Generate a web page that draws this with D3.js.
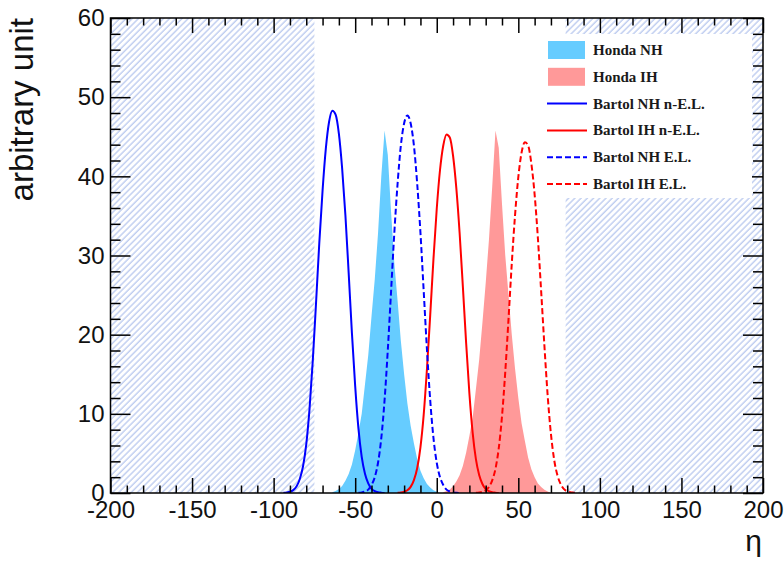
<!DOCTYPE html>
<html>
<head>
<meta charset="utf-8">
<script src="https://cdn.jsdelivr.net/npm/d3@7"></script>
<style>
  body { margin: 0; background: #fff; }
  .tick text { font-family: "Liberation Sans", Arial, sans-serif; font-size: 24px; fill: #111; }
</style>
</head>
<body>
<div id="chart"></div>
<script>
// histogram bins, width 2 in eta; each series starts at its own eta
const binWidth = 2;

const hondaNHStart = -64;
const hondaNH = [0.1, 0.25, 0.5, 0.9, 1.55, 2.4, 3.6, 5.4, 7.6, 10.0,
  13.7, 17.4, 22.3, 27.0, 32.8, 40.0, 45.8, 42.7, 35.5, 29.0,
  24.3, 19.2, 15.0, 11.3, 8.5, 6.3, 4.3, 2.8, 1.85, 1.15,
  0.7, 0.35, 0.15, 0];

const hondaIHStart = 4;
const hondaIH = [0.1, 0.25, 0.45, 0.85, 1.45, 2.25, 3.4, 5.1, 7.2, 9.5,
  13.1, 16.8, 21.5, 26.5, 32.0, 38.7, 45.8, 43.6, 36.5, 30.0,
  25.0, 20.0, 15.7, 12.0, 8.8, 6.6, 4.5, 3.0, 2.0, 1.2,
  0.75, 0.4, 0.2, 0];

const bartolNHnELStart = -94;
const bartolNHnEL = [0.02, 0.06, 0.15, 0.36, 0.82, 1.74, 3.34, 6.15, 10.6, 16.7,
  24.0, 31.6, 38.2, 43.5, 46.9, 48.3, 47.8, 45.4, 41.0, 35.1,
  27.8, 20.2, 13.5, 8.13, 4.55, 2.42, 1.21, 0.53, 0.24, 0.1,
  0.04, 0];

const bartolIHnELStart = -24;
const bartolIHnEL = [0.02, 0.05, 0.15, 0.34, 0.77, 1.63, 3.13, 5.77, 9.90, 15.7,
  22.5, 29.6, 35.9, 40.8, 43.9, 45.3, 44.9, 42.6, 38.5, 32.9,
  26.1, 19.0, 12.6, 7.63, 4.27, 2.27, 1.14, 0.5, 0.23, 0.09,
  0.04, 0];

const bartolNHELStart = -48;
const bartolNHEL = [0.02, 0.07, 0.19, 0.43, 1.0, 2.0, 3.82, 6.92, 11.7, 18.1,
  25.5, 32.9, 39.1, 43.9, 46.7, 47.7, 46.7, 43.9, 39.1, 32.9,
  25.5, 18.1, 11.7, 6.92, 3.82, 2.0, 1.0, 0.43, 0.19, 0.07,
  0.02, 0];

const bartolIHELStart = 24;
const bartolIHEL = [0.02, 0.05, 0.14, 0.33, 0.75, 1.60, 3.06, 5.64, 9.68, 15.3,
  22.0, 29.0, 35.1, 39.9, 43.0, 44.3, 43.9, 41.6, 37.7, 32.2,
  25.5, 18.6, 12.3, 7.46, 4.17, 2.22, 1.11, 0.49, 0.22, 0.09,
  0.04, 0];

// excluded eta ranges (hatched)
const excludedRanges = [[-200, -75], [79, 200]];

const xMajorTicks = [-200, -150, -100, -50, 0, 50, 100, 150, 200];
const yMajorTicks = [0, 10, 20, 30, 40, 50, 60];

const legendEntries = [
  { label: "Honda NH", type: "box", color: "#66ccff" },
  { label: "Honda IH", type: "box", color: "#ff9999" },
  { label: "Bartol NH n-E.L.", type: "line", color: "#0000ff", dash: null },
  { label: "Bartol IH n-E.L.", type: "line", color: "#ff0000", dash: null },
  { label: "Bartol NH E.L.", type: "line", color: "#0000ff", dash: "6,3" },
  { label: "Bartol IH E.L.", type: "line", color: "#ff0000", dash: "6,3" }
];

function toPoints(start, values) {
  return values.map((v, i) => ({ eta: start + i * binWidth, value: v }));
}

const W = 784, H = 561;
const plot = { left: 110.5, right: 763, top: 18, bottom: 493 };

const svg = d3.select("#chart").append("svg")
  .attr("width", W)
  .attr("height", H);

const defs = svg.append("defs");
const pat = defs.append("pattern")
  .attr("id", "hatch")
  .attr("patternUnits", "userSpaceOnUse")
  .attr("width", 4.4)
  .attr("height", 4.4)
  .attr("patternTransform", "rotate(45)");
pat.append("line")
  .attr("x1", 1).attr("y1", 0).attr("x2", 1).attr("y2", 4.4)
  .attr("stroke", "#b2c3ed")
  .attr("stroke-width", 1.2);

defs.append("clipPath").attr("id", "plotClip")
  .append("rect")
  .attr("x", plot.left).attr("y", plot.top)
  .attr("width", plot.right - plot.left).attr("height", plot.bottom - plot.top);

const x = d3.scaleLinear().domain([-200, 200]).range([plot.left, plot.right]);
const y = d3.scaleLinear().domain([0, 60]).range([plot.bottom, plot.top]);

// hatched regions
svg.append("g").selectAll("rect")
  .data(excludedRanges)
  .enter().append("rect")
  .attr("x", d => x(d[0]))
  .attr("y", y(60))
  .attr("width", d => x(d[1]) - x(d[0]))
  .attr("height", y(0) - y(60))
  .attr("fill", "url(#hatch)");

const area = d3.area()
  .x(d => x(d.eta))
  .y0(y(0))
  .y1(d => y(d.value));

const line = d3.line()
  .curve(d3.curveMonotoneX)
  .x(d => x(d.eta))
  .y(d => y(d.value));

const g = svg.append("g").attr("clip-path", "url(#plotClip)");

g.append("path")
  .attr("d", area(toPoints(hondaNHStart, hondaNH)))
  .attr("fill", "#66ccff");
g.append("path")
  .attr("d", area(toPoints(hondaIHStart, hondaIH)))
  .attr("fill", "#ff9999");

const curves = [
  { start: bartolNHnELStart, values: bartolNHnEL, color: "#0000ff", dash: null },
  { start: bartolIHnELStart, values: bartolIHnEL, color: "#ff0000", dash: null },
  { start: bartolNHELStart, values: bartolNHEL, color: "#0000ff", dash: "6,3" },
  { start: bartolIHELStart, values: bartolIHEL, color: "#ff0000", dash: "6,3" }
];

g.selectAll(".curve")
  .data(curves)
  .enter().append("path")
  .attr("class", "curve")
  .attr("d", d => line(toPoints(d.start, d.values)))
  .attr("fill", "none")
  .attr("stroke", d => d.color)
  .attr("stroke-width", 2)
  .attr("stroke-dasharray", d => d.dash);

// axes: ticks point inward
const xMinor = d3.range(-200, 201, 10).filter(v => v % 50 !== 0);
const yMinor = d3.range(0, 61, 2).filter(v => v % 10 !== 0);

function styleAxis(sel) {
  sel.select(".domain").remove();
  sel.selectAll(".tick line").attr("stroke", "#000").attr("stroke-width", 1.5);
}

svg.append("g")
  .attr("transform", `translate(0,${plot.bottom})`)
  .call(d3.axisBottom(x).tickValues(xMinor).tickSizeInner(-7.5).tickSizeOuter(0).tickFormat(""))
  .call(styleAxis);
svg.append("g")
  .attr("transform", `translate(0,${plot.bottom})`)
  .call(d3.axisBottom(x).tickValues(xMajorTicks).tickSizeInner(-15).tickSizeOuter(0).tickPadding(8).tickFormat(d => String(d)))
  .call(styleAxis);

svg.append("g")
  .attr("transform", `translate(0,${plot.top})`)
  .call(d3.axisTop(x).tickValues(xMinor).tickSizeInner(-7.5).tickSizeOuter(0).tickFormat(""))
  .call(styleAxis);
svg.append("g")
  .attr("transform", `translate(0,${plot.top})`)
  .call(d3.axisTop(x).tickValues(xMajorTicks).tickSizeInner(-15).tickSizeOuter(0).tickFormat(""))
  .call(styleAxis);

svg.append("g")
  .attr("transform", `translate(${plot.left},0)`)
  .call(d3.axisLeft(y).tickValues(yMinor).tickSizeInner(-10).tickSizeOuter(0).tickFormat(""))
  .call(styleAxis);
svg.append("g")
  .attr("transform", `translate(${plot.left},0)`)
  .call(d3.axisLeft(y).tickValues(yMajorTicks).tickSizeInner(-20).tickSizeOuter(0).tickPadding(6).tickFormat(d => String(d)))
  .call(styleAxis);

svg.append("g")
  .attr("transform", `translate(${plot.right},0)`)
  .call(d3.axisRight(y).tickValues(yMinor).tickSizeInner(-10).tickSizeOuter(0).tickFormat(""))
  .call(styleAxis);
svg.append("g")
  .attr("transform", `translate(${plot.right},0)`)
  .call(d3.axisRight(y).tickValues(yMajorTicks).tickSizeInner(-20).tickSizeOuter(0).tickFormat(""))
  .call(styleAxis);

// frame
svg.append("rect")
  .attr("x", plot.left).attr("y", plot.top)
  .attr("width", plot.right - plot.left).attr("height", plot.bottom - plot.top)
  .attr("fill", "none")
  .attr("stroke", "#000")
  .attr("stroke-width", 1.5);

// axis titles
svg.append("text")
  .attr("transform", `translate(33,${plot.top}) rotate(-90)`)
  .attr("text-anchor", "end")
  .style("font-family", "'Liberation Sans', Arial, sans-serif")
  .style("font-size", "33px")
  .style("fill", "#111")
  .text("arbitrary unit");

svg.append("text")
  .attr("x", plot.right - 1)
  .attr("y", 551)
  .attr("text-anchor", "end")
  .style("font-family", "'Liberation Sans', Arial, sans-serif")
  .style("font-size", "30px")
  .style("fill", "#111")
  .text("η");

// legend (drawn on top, white box)
const legend = svg.append("g");
legend.append("rect")
  .attr("x", 541).attr("y", 34)
  .attr("width", 752 - 541).attr("height", 198 - 34)
  .attr("fill", "#fff");

const rowY = i => 50 + i * 26.8;
const items = legend.selectAll(".item")
  .data(legendEntries)
  .enter().append("g")
  .attr("class", "item")
  .attr("transform", (d, i) => `translate(0,${rowY(i)})`);

items.filter(d => d.type === "box").append("rect")
  .attr("x", 548).attr("y", -9)
  .attr("width", 37).attr("height", 18)
  .attr("fill", d => d.color);

items.filter(d => d.type === "line").append("line")
  .attr("x1", 547).attr("x2", 587)
  .attr("y1", 0).attr("y2", 0)
  .attr("stroke", d => d.color)
  .attr("stroke-width", 2)
  .attr("stroke-dasharray", d => d.dash);

items.append("text")
  .attr("x", 593)
  .attr("y", 5)
  .style("font-family", "'Liberation Serif', 'Times New Roman', serif")
  .style("font-size", "15px")
  .style("font-weight", "bold")
  .style("fill", "#1a1a1a")
  .text(d => d.label);
</script>
</body>
</html>
